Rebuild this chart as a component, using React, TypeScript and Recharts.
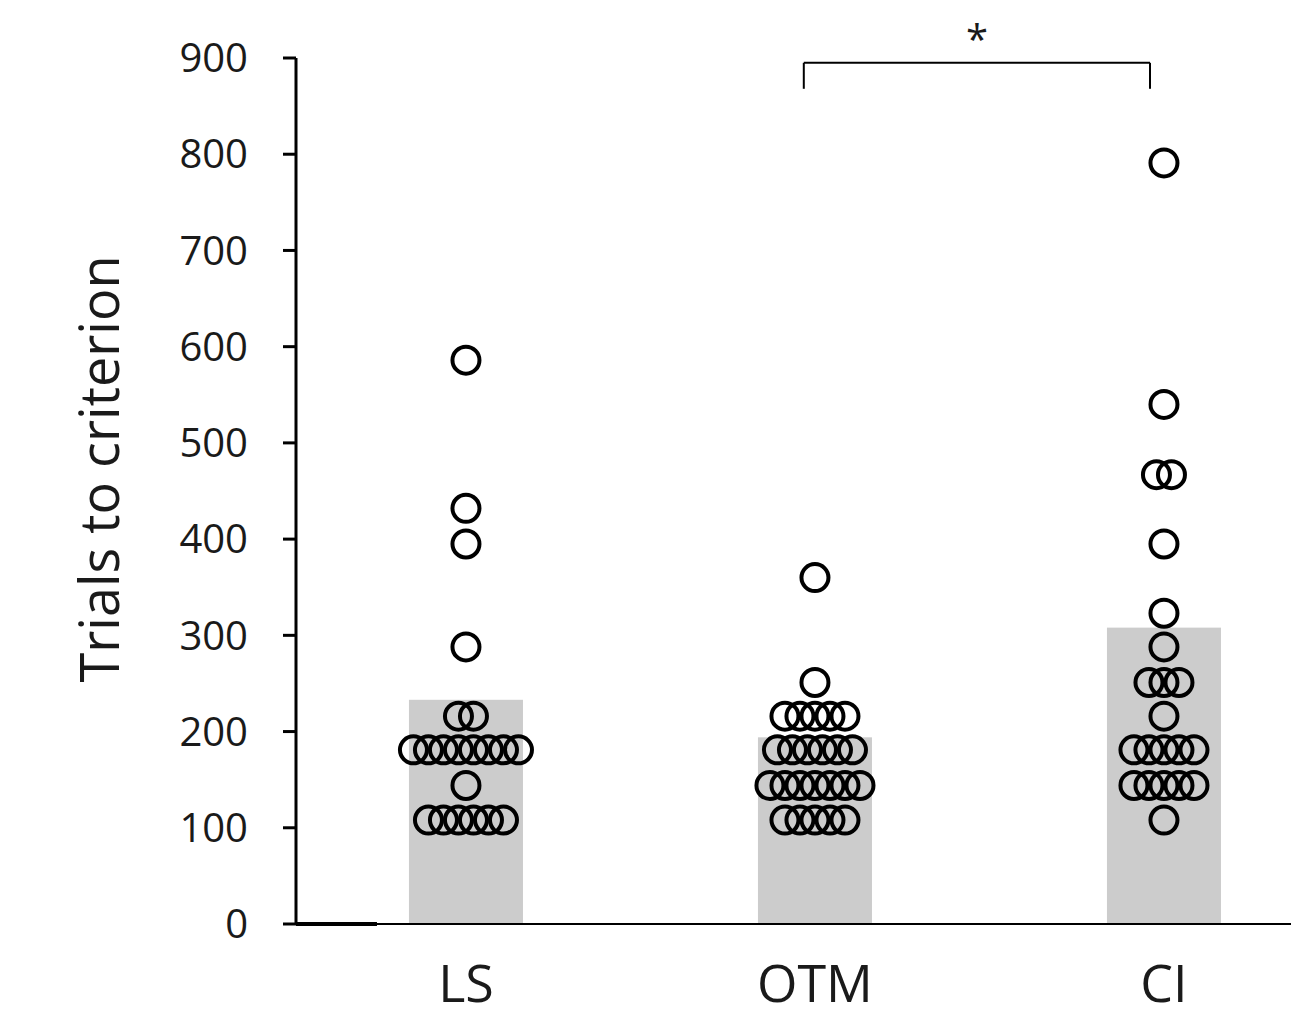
import { ComposedChart, Bar, Scatter, XAxis, YAxis, ReferenceLine, Label } from "recharts";

// ── Values ─────────────────────────────────────────────────────────────────

const CATEGORIES = ["LS", "OTM", "CI"];
const MEANS = [233, 194, 308];

const LS_TRIALS = [
  586, 432, 395, 288, 216, 216,
  181, 181, 181, 181, 181, 181, 181, 181,
  144,
  108, 108, 108, 108, 108, 108,
];
const OTM_TRIALS = [
  360, 251,
  216, 216, 216, 216, 216,
  181, 181, 181, 181, 181, 181,
  144, 144, 144, 144, 144, 144, 144,
  108, 108, 108, 108, 108,
];
const CI_TRIALS = [
  791, 540, 467, 467, 395, 323, 288,
  251, 251, 251,
  216,
  181, 181, 181, 181, 181,
  144, 144, 144, 144, 144,
  108,
];

const Y_TICKS = [0, 100, 200, 300, 400, 500, 600, 700, 800, 900];
const SIG_PAIR = [2, 3]; // OTM vs CI
const SIG_LABEL = "*";

// ── Helpers ────────────────────────────────────────────────────────────────

const DOT_STEP = 0.043; // horizontal spread for tied values, in x units
const BAR_WIDTH = 114;

function swarm(values: number[], pos: number) {
  const counts = new Map<number, number>();
  values.forEach((v) => counts.set(v, (counts.get(v) || 0) + 1));
  const seen = new Map<number, number>();
  return values.map((v) => {
    const n = counts.get(v) || 1;
    const i = seen.get(v) || 0;
    seen.set(v, i + 1);
    return { x: pos + (i - (n - 1) / 2) * DOT_STEP, y: v };
  });
}

const barData = CATEGORIES.map((c, i) => ({ x: i + 1, y: MEANS[i], name: c }));
const dotData = [
  ...swarm(LS_TRIALS, 1),
  ...swarm(OTM_TRIALS, 2),
  ...swarm(CI_TRIALS, 3),
];

const Ring = (props: any) => (
  <circle cx={props.cx} cy={props.cy} r={13.5} fill="none" stroke="#000" strokeWidth={4} />
);

// numeric x axis gives a hairline band, so widen the bar around its centre
const WideBar = (props: any) => {
  const cx = props.x + props.width / 2;
  return <rect x={cx - BAR_WIDTH / 2} y={props.y} width={BAR_WIDTH} height={props.height} fill="#cccccc" />;
};

const FONT = "'Open Sans', 'Noto Sans', sans-serif";

export default function App() {
  return (
    <div style={{ position: "absolute", left: 0, top: 0, width: 1291, height: 1010, background: "#fff" }}>
      <ComposedChart
        width={1291}
        height={1010}
        data={barData}
        margin={{ top: 58, right: 0, bottom: 0, left: 0 }}
      >
        <XAxis
          dataKey="x"
          type="number"
          domain={[0.513, 3.364]}
          ticks={[1, 2, 3]}
          tickFormatter={(v: number) => CATEGORIES[v - 1]}
          allowDataOverflow
          height={86}
          axisLine={{ stroke: "#000", strokeWidth: 2 }}
          tickLine={false}
          tickSize={6}
          tickMargin={35}
          tick={{ fill: "#1a1a1a", fontSize: 52, fontFamily: FONT }}
        />
        <YAxis
          dataKey="y"
          type="number"
          domain={[0, 900]}
          ticks={Y_TICKS}
          width={296}
          axisLine={{ stroke: "#000", strokeWidth: 3 }}
          tickLine={{ stroke: "#000", strokeWidth: 3 }}
          tickSize={13}
          tickMargin={35}
          tick={{ fill: "#1a1a1a", fontSize: 40, fontFamily: FONT }}
        >
          <Label
            content={(p: any) => {
              const vb = p.viewBox;
              const cx = vb.x + 98;
              const cy = vb.y + vb.height / 2 - 22;
              return (
                <text
                  x={cx}
                  y={cy}
                  transform={`rotate(-90, ${cx}, ${cy})`}
                  textAnchor="middle"
                  dominantBaseline="central"
                  fill="#1a1a1a"
                  fontSize={54}
                  fontFamily={FONT}
                >
                  Trials to criterion
                </text>
              );
            }}
          />
        </YAxis>
        <Bar dataKey="y" fill="#cccccc" shape={WideBar} isAnimationActive={false} />
        <Scatter data={dotData} dataKey="y" shape={Ring} isAnimationActive={false} />
        {/* heavier stub of the baseline at the origin */}
        <ReferenceLine
          segment={[{ x: 0.513, y: 0 }, { x: 0.745, y: 0 }]}
          stroke="#000"
          strokeWidth={4}
          ifOverflow="visible"
        />
        {/* significance bracket */}
        <ReferenceLine
          segment={[{ x: SIG_PAIR[0] - 0.032, y: 868 }, { x: SIG_PAIR[0] - 0.032, y: 895 }]}
          stroke="#000"
          strokeWidth={2}
          ifOverflow="visible"
        />
        <ReferenceLine
          segment={[{ x: SIG_PAIR[1] - 0.04, y: 868 }, { x: SIG_PAIR[1] - 0.04, y: 895 }]}
          stroke="#000"
          strokeWidth={2}
          ifOverflow="visible"
        />
        <ReferenceLine
          segment={[{ x: SIG_PAIR[0] - 0.032, y: 895 }, { x: SIG_PAIR[1] - 0.04, y: 895 }]}
          stroke="#000"
          strokeWidth={2}
          ifOverflow="visible"
        >
          <Label value={SIG_LABEL} position="top" offset={9} fill="#1a1a1a" fontSize={40} fontFamily={FONT} />
        </ReferenceLine>
      </ComposedChart>
    </div>
  );
}
